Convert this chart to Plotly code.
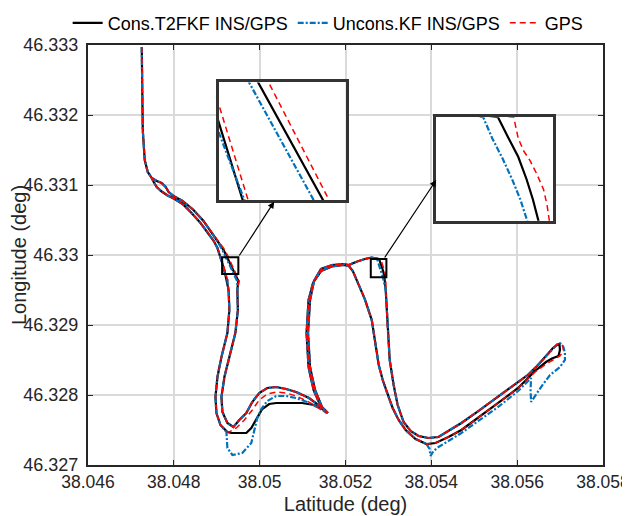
import plotly.graph_objects as go

# ---------------- data (x = Latitude deg, y = Longitude deg) ----------------
X_TICKS = [38.046, 38.048, 38.050, 38.052, 38.054, 38.056, 38.058]
X_TICK_TEXT = ["38.046", "38.048", "38.05", "38.052", "38.054", "38.056", "38.058"]
Y_TICKS = [46.327, 46.328, 46.329, 46.330, 46.331, 46.332, 46.333]
Y_TICK_TEXT = ["46.327", "46.328", "46.329", "46.33", "46.331", "46.332", "46.333"]

SERIES_NAMES = ["Cons.T2FKF INS/GPS", "Uncons.KF INS/GPS", "GPS"]

# common path pieces
TOP = [(38.047253, 46.332971), (38.047264, 46.332357), (38.047276, 46.331786), (38.047322, 46.331357),
       (38.047392, 46.331186), (38.047485, 46.331100), (38.047601, 46.331057), (38.047717, 46.331029),
       (38.047810, 46.330971), (38.047879, 46.330900), (38.047995, 46.330843), (38.048204, 46.330771),
       (38.048459, 46.330643), (38.048691, 46.330486), (38.048877, 46.330329), (38.049016, 46.330200)]
R_STRAND = [(38.049480, 46.329500), (38.049492, 46.329214), (38.049434, 46.328886), (38.049294, 46.328543),
            (38.049178, 46.328257), (38.049109, 46.327971), (38.049132, 46.327757), (38.049248, 46.327600),
            (38.049387, 46.327543)]
BOTTOM_A = [(38.049526, 46.327643), (38.049689, 46.327743), (38.049828, 46.327900), (38.049990, 46.328029),
            (38.050176, 46.328100), (38.050385, 46.328114), (38.050617, 46.328086), (38.050849, 46.328043),
            (38.051150, 46.327957), (38.051382, 46.327857), (38.051522, 46.327786), (38.051591, 46.327743)]
HUMP_A = [(38.051452, 46.327829), (38.051290, 46.328071), (38.051174, 46.328400), (38.051127, 46.328886),
          (38.051174, 46.329357), (38.051266, 46.329629), (38.051429, 46.329800), (38.051684, 46.329857),
          (38.051962, 46.329871), (38.052078, 46.329857), (38.052241, 46.329900), (38.052450, 46.329943),
          (38.052612, 46.329964)]
DOWN2 = [(38.052937, 46.329500), (38.052960, 46.329214), (38.052983, 46.328886), (38.053030, 46.328500),
         (38.053122, 46.328143), (38.053215, 46.327857), (38.053354, 46.327614)]
V_UPPER = [(38.053517, 46.327486), (38.053702, 46.327414), (38.053934, 46.327386), (38.054166, 46.327400),
           (38.054398, 46.327486), (38.054700, 46.327600), (38.055094, 46.327771), (38.055489, 46.327950),
           (38.055906, 46.328134), (38.056254, 46.328289), (38.056486, 46.328429), (38.056672, 46.328557),
           (38.056834, 46.328671)]
LOWER_ARM = [(38.056022, 46.328100), (38.055558, 46.327886), (38.055094, 46.327671), (38.054700, 46.327500),
             (38.054398, 46.327400), (38.054097, 46.327314), (38.053888, 46.327300)]
LOWER_FORK = [(38.053633, 46.327371), (38.053401, 46.327500), (38.053238, 46.327643), (38.053099, 46.327814),
              (38.052983, 46.328000), (38.052867, 46.328214), (38.052774, 46.328429), (38.052705, 46.328714),
              (38.052612, 46.329071), (38.052450, 46.329371), (38.052287, 46.329614), (38.052171, 46.329771),
              (38.052078, 46.329843)]
HUMP_B = [(38.051962, 46.329857), (38.051684, 46.329836), (38.051429, 46.329771), (38.051243, 46.329600),
          (38.051139, 46.329357), (38.051092, 46.328886), (38.051139, 46.328400), (38.051255, 46.328071),
          (38.051417, 46.327843), (38.051568, 46.327743)]
L_STRAND = [(38.049086, 46.327571), (38.048993, 46.327743), (38.048970, 46.327971), (38.049016, 46.328257),
            (38.049109, 46.328543), (38.049248, 46.328886), (38.049294, 46.329214), (38.049276, 46.329500)]
RETURN = [(38.049016, 46.330100), (38.048923, 46.330207), (38.048784, 46.330329), (38.048622, 46.330457),
          (38.048413, 46.330600), (38.048204, 46.330729), (38.048018, 46.330800), (38.047856, 46.330850),
          (38.047717, 46.330907), (38.047601, 46.330971), (38.047531, 46.331043), (38.047485, 46.331100)]

# series-specific pieces: Cons.T2FKF (K), Uncons.KF (B), GPS (R)
DIAG_K = [(38.049160, 46.330071), (38.049243, 46.329967), (38.049436, 46.329729), (38.049503, 46.329629)]
DIAG_B = [(38.049132, 46.330071), (38.049216, 46.329967), (38.049408, 46.329729), (38.049475, 46.329629)]
DIAG_R = [(38.049190, 46.330071), (38.049274, 46.329967), (38.049454, 46.329729), (38.049522, 46.329629)]

BOX2_K = [(38.052781, 46.329943), (38.052814, 46.329890), (38.052844, 46.329843), (38.052870, 46.329786),
          (38.052890, 46.329734), (38.052907, 46.329681)]
BOX2_B = [(38.052735, 46.329943), (38.052763, 46.329890), (38.052795, 46.329839), (38.052825, 46.329786),
          (38.052851, 46.329734), (38.052872, 46.329681)]
BOX2_R = [(38.052830, 46.329943), (38.052844, 46.329890), (38.052860, 46.329859), (38.052881, 46.329833),
          (38.052902, 46.329799), (38.052923, 46.329760), (38.052934, 46.329720), (38.052941, 46.329681)]

TIP_K = [(38.056927, 46.328714), (38.056985, 46.328729), (38.056997, 46.328643), (38.056962, 46.328557),
         (38.056811, 46.328521), (38.056672, 46.328471), (38.056417, 46.328343)]
TIP_R = [(38.056927, 46.328721), (38.057008, 46.328736), (38.057066, 46.328700), (38.057078, 46.328629),
         (38.056997, 46.328557), (38.056834, 46.328500), (38.056672, 46.328443), (38.056417, 46.328329)]
TIP_B = [(38.056927, 46.328721), (38.057008, 46.328736), (38.057078, 46.328686), (38.057113, 46.328600),
         (38.057113, 46.328500), (38.056997, 46.328400), (38.056765, 46.328286), (38.056556, 46.328114),
         (38.056370, 46.327929), (38.056324, 46.327900), (38.056312, 46.328071), (38.056324, 46.328243),
         (38.056022, 46.328057), (38.055558, 46.327829), (38.055094, 46.327629), (38.054700, 46.327457),
         (38.054398, 46.327343), (38.054166, 46.327257), (38.054050, 46.327200), (38.053981, 46.327129),
         (38.053958, 46.327229), (38.053888, 46.327300)]

BOTTOM_B_K = [(38.051498, 46.327786), (38.051266, 46.327857), (38.050988, 46.327886), (38.050385, 46.327886),
              (38.050222, 46.327871), (38.050060, 46.327800), (38.049921, 46.327657), (38.049805, 46.327529),
              (38.049689, 46.327457), (38.049341, 46.327457), (38.049248, 46.327471)]
BOTTOM_B_R = [(38.051382, 46.327814), (38.051104, 46.327914), (38.050849, 46.327986), (38.050617, 46.328029),
              (38.050385, 46.328043), (38.050176, 46.328014), (38.049990, 46.327929), (38.049828, 46.327786),
              (38.049642, 46.327643), (38.049457, 46.327529), (38.049294, 46.327471), (38.049248, 46.327471)]
BOTTOM_B_B = [(38.051382, 46.327814), (38.051104, 46.327900), (38.050849, 46.327957), (38.050617, 46.327986),
              (38.050385, 46.327986), (38.050176, 46.327914), (38.050037, 46.327800), (38.049944, 46.327671),
              (38.049874, 46.327500), (38.049805, 46.327314), (38.049596, 46.327171), (38.049364, 46.327143),
              (38.049248, 46.327243), (38.049225, 46.327386), (38.049225, 46.327471)]

BOX1L_K = [(38.049236, 46.329643), (38.049197, 46.329729), (38.049125, 46.329889), (38.049074, 46.330000)]
BOX1L_B = [(38.049246, 46.329643), (38.049202, 46.329729), (38.049125, 46.329867), (38.049051, 46.330000)]
BOX1L_R = [(38.049253, 46.329643), (38.049213, 46.329729), (38.049125, 46.329924), (38.049090, 46.330000)]

# zoom windows (lat range, lon range) of the two small boxes
ZOOM1_X = [38.049125, 38.049503]
ZOOM1_Y = [46.329729, 46.329967]
ZOOM2_X = [38.052589, 38.052953]
ZOOM2_Y = [46.329681, 46.329943]

cons_path = (TOP + DIAG_K + R_STRAND + BOTTOM_A + HUMP_A + BOX2_K + DOWN2 + V_UPPER + TIP_K +
             LOWER_ARM + LOWER_FORK + HUMP_B + BOTTOM_B_K + L_STRAND + BOX1L_K + RETURN)
uncons_path = (TOP + DIAG_B + R_STRAND + BOTTOM_A + HUMP_A + BOX2_B + DOWN2 + V_UPPER + TIP_B +
               LOWER_FORK + HUMP_B + BOTTOM_B_B + L_STRAND + BOX1L_B + RETURN)
gps_path = (TOP + DIAG_R + R_STRAND + BOTTOM_A + HUMP_A + BOX2_R + DOWN2 + V_UPPER + TIP_R +
            LOWER_ARM + LOWER_FORK + HUMP_B + BOTTOM_B_R + L_STRAND + BOX1L_R + RETURN)

paths = [cons_path, uncons_path, gps_path]
styles = [dict(color="#000000", width=2.2, dash="solid"),
          dict(color="#0072BD", width=2.2, dash="6px,2px,2px,2px"),
          dict(color="#FF0000", width=1.5, dash="6px,4px")]

FONT = "Liberation Sans, Arial, Helvetica, sans-serif"
AX_COLOR = "#262626"

fig = go.Figure()
for name, path, st in zip(SERIES_NAMES, paths, styles):
    xs = [p[0] for p in path]
    ys = [p[1] for p in path]
    fig.add_trace(go.Scatter(x=xs, y=ys, mode="lines", name=name, line=st,
                             xaxis="x", yaxis="y"))
    fig.add_trace(go.Scatter(x=xs, y=ys, mode="lines", name=name, line=st, showlegend=False,
                             xaxis="x2", yaxis="y2", hoverinfo="skip"))
    fig.add_trace(go.Scatter(x=xs, y=ys, mode="lines", name=name, line=st, showlegend=False,
                             xaxis="x3", yaxis="y3", hoverinfo="skip"))

inset_axis = dict(showline=True, mirror=True, linewidth=2.5, linecolor="#333333",
                  showticklabels=False, ticks="", showgrid=False, zeroline=False)

fig.update_layout(
    width=630, height=516,
    margin=dict(l=80, r=35, t=37, b=59, autoexpand=False),
    paper_bgcolor="white", plot_bgcolor="white",
    font=dict(family=FONT, size=18, color="#000000"),
    showlegend=True,
    legend=dict(orientation="h", x=-0.0395, xanchor="left", y=1.052, yanchor="middle",
                font=dict(size=18, color="#000000"), bgcolor="rgba(0,0,0,0)",
                itemwidth=30, tracegroupgap=0),
    xaxis=dict(domain=[0, 1], range=[X_TICKS[0], X_TICKS[-1]], tickvals=X_TICKS, ticktext=X_TICK_TEXT,
               ticks="inside", ticklen=5, tickcolor=AX_COLOR, mirror="ticks", showline=True,
               linewidth=2, linecolor=AX_COLOR, showgrid=True, gridcolor="#DADADA", gridwidth=1.5,
               zeroline=False, tickfont=dict(size=17.5, color="#262626"), automargin=False,
               ticklabeloverflow="allow",
               title=dict(text="Latitude (deg)", font=dict(size=20, color="#262626"), standoff=6),
               anchor="y"),
    yaxis=dict(domain=[0, 1], range=[Y_TICKS[0], Y_TICKS[-1]], tickvals=Y_TICKS, ticktext=Y_TICK_TEXT,
               ticks="inside", ticklen=5, tickcolor=AX_COLOR, mirror="ticks", showline=True,
               linewidth=2, linecolor=AX_COLOR, showgrid=True, gridcolor="#DADADA", gridwidth=1.5,
               zeroline=False, tickfont=dict(size=18, color="#262626"), ticklabelstandoff=4,
               automargin=False, ticklabeloverflow="allow",
               title=dict(text="Longitude (deg)", font=dict(size=20, color="#262626"), standoff=2),
               anchor="x"),
    xaxis2=dict(domain=[0.2534, 0.5], range=ZOOM1_X, anchor="y2", **inset_axis),
    yaxis2=dict(domain=[0.631, 0.911], range=ZOOM1_Y, anchor="x2", **inset_axis),
    xaxis3=dict(domain=[0.6764, 0.9033], range=ZOOM2_X, anchor="y3", **inset_axis),
    yaxis3=dict(domain=[0.5817, 0.8279], range=ZOOM2_Y, anchor="x3", **inset_axis),
)

# small zoom boxes on the main axes
for zx, zy in [(ZOOM1_X, ZOOM1_Y), (ZOOM2_X, ZOOM2_Y)]:
    fig.add_shape(type="rect", xref="x", yref="y", x0=zx[0], x1=zx[1], y0=zy[0], y1=zy[1],
                  line=dict(color="#000000", width=2), fillcolor="rgba(0,0,0,0)")

# arrows from the small boxes to the insets
ARROWS = [((38.049503, 46.329971), (38.050338, 46.330761)),
          ((38.052890, 46.329943), (38.054113, 46.331071))]
for (tx, ty), (hx, hy) in ARROWS:
    fig.add_annotation(x=hx, y=hy, ax=tx, ay=ty, xref="x", yref="y", axref="x", ayref="y",
                       text="", showarrow=True, arrowhead=2, arrowsize=1.1, arrowwidth=1.2,
                       arrowcolor="#000000", standoff=0, startstandoff=0)

fig.write_html("out.html")
